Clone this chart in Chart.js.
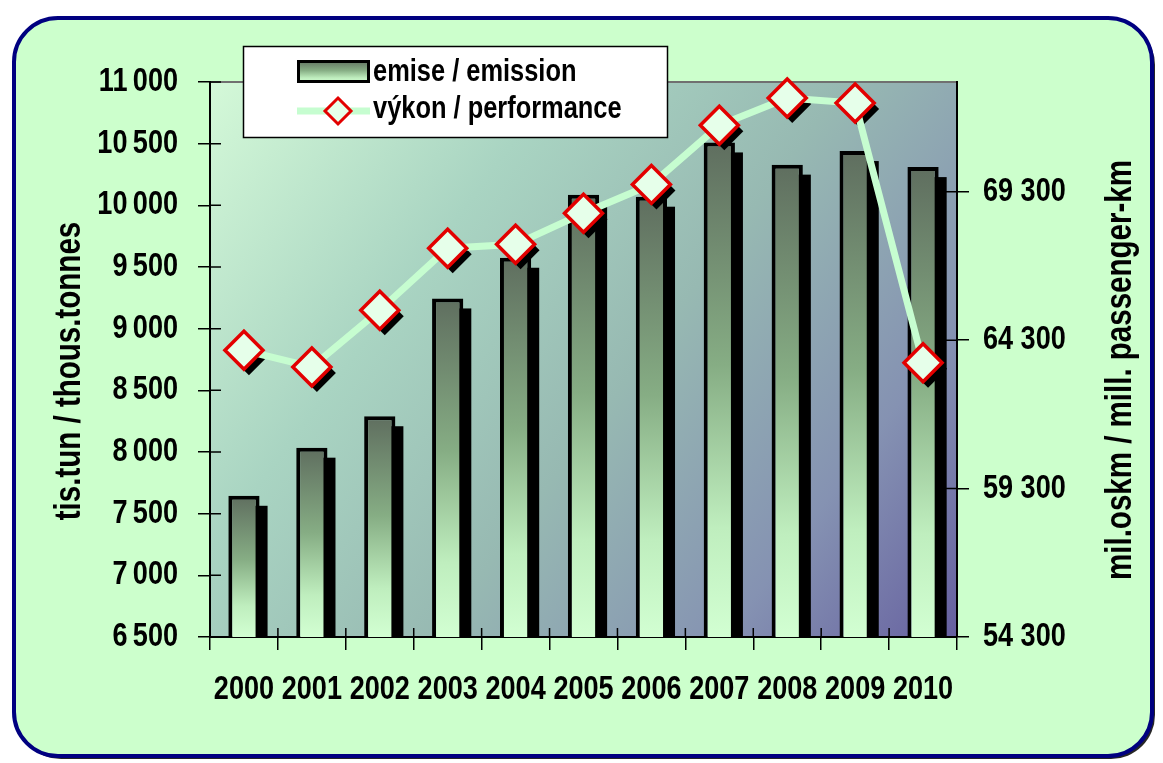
<!DOCTYPE html>
<html lang="cs">
<head>
<meta charset="UTF-8">
<title>emise / výkon</title>
<style>
  html, body { margin: 0; padding: 0; background: #fff; }
  canvas { display: block; }
</style>
</head>
<body>
<canvas id="emiseChart" width="1163" height="763"></canvas>

<script src="https://cdn.jsdelivr.net/npm/chart.js"></script>
<script>
  // data
  const years = ['2000', '2001', '2002', '2003', '2004', '2005', '2006', '2007', '2008', '2009', '2010'];
  const emise = [7645, 8035, 8290, 9245, 9575, 10085, 10070, 10510, 10330, 10440, 10310];
  const vykon = [63960, 63400, 65310, 67400, 67530, 68580, 69550, 71540, 72460, 72290, 63540];
  const leftTicks = [6500, 7000, 7500, 8000, 8500, 9000, 9500, 10000, 10500, 11000];
  const rightTicks = [54300, 59300, 64300, 69300];
  const seriesNames = ['emise / emission', 'výkon / performance'];
  const leftTitle = 'tis.tun / thous.tonnes';
  const rightTitle = 'mil.oskm / mill. passenger-km';

  const FONT = '"Liberation Sans", Arial, sans-serif';
  const NARROW = 0.82; // no Arial Narrow here, so squeeze the text to its width
  const LINE_COLOR = '#c6fdd0';
  const MARK_RED = '#e30000';
  const MARK_FILL = '#e6ffea';

  function fmt(v, sep) {
    return String(v).replace(/\B(?=(\d{3})+(?!\d))/g, sep);
  }

  function barGradient(c, top, bottom) {
    const g = c.createLinearGradient(0, top, 0, bottom);
    g.addColorStop(0, '#5f6e5f');
    g.addColorStop(0.45, '#86ad84');
    g.addColorStop(0.78, '#bfeebe');
    g.addColorStop(1, '#d2ffd2');
    return g;
  }

  function diamond(c, x, y, r) {
    c.beginPath();
    c.moveTo(x, y - r);
    c.lineTo(x + r, y);
    c.lineTo(x, y + r);
    c.lineTo(x - r, y);
    c.closePath();
  }

  function roundRect(c, x, y, w, h, r) {
    c.beginPath();
    c.moveTo(x + r, y);
    c.lineTo(x + w - r, y);
    c.arcTo(x + w, y, x + w, y + r, r);
    c.lineTo(x + w, y + h - r);
    c.arcTo(x + w, y + h, x + w - r, y + h, r);
    c.lineTo(x + r, y + h);
    c.arcTo(x, y + h, x, y + h - r, r);
    c.lineTo(x, y + r);
    c.arcTo(x, y, x + r, y, r);
    c.closePath();
  }

  const framePlugin = {
    id: 'frame',
    beforeDraw(chart) {
      const c = chart.ctx;
      const a = chart.chartArea;
      c.save();
      c.fillStyle = '#fff';
      c.fillRect(0, 0, chart.width, chart.height);
      // rounded outer panel
      roundRect(c, 14, 18, 1138, 738, 44);
      c.shadowColor = 'rgba(0,0,0,0.85)';
      c.shadowOffsetX = 3;
      c.shadowOffsetY = 3;
      c.fillStyle = '#ccffcc';
      c.fill();
      c.shadowColor = 'transparent';
      c.lineWidth = 4;
      c.strokeStyle = '#000080';
      c.stroke();
      // plot area
      const g = c.createLinearGradient(a.left, a.top, a.right, a.bottom);
      g.addColorStop(0, '#d4f9d8');
      g.addColorStop(0.3, '#a9d4c2');
      g.addColorStop(0.55, '#97b9b2');
      g.addColorStop(0.8, '#8592b2');
      g.addColorStop(1, '#6660a0');
      c.fillStyle = g;
      c.fillRect(a.left, a.top, a.right - a.left, a.bottom - a.top);
      c.strokeStyle = '#707070';
      c.lineWidth = 2;
      c.beginPath();
      c.moveTo(a.left, a.top);
      c.lineTo(a.right, a.top);
      c.stroke();
      c.restore();
    },
    beforeDatasetDraw(chart, args) {
      const c = chart.ctx;
      const a = chart.chartArea;
      c.save();
      c.beginPath();
      c.rect(a.left, a.top - 30, a.right - a.left, a.bottom - a.top + 30);
      c.clip();
      c.fillStyle = '#000';
      if (args.index === 0) {
        args.meta.data.forEach(el => {
          const p = el.getProps(['x', 'y', 'base', 'width'], true);
          c.fillRect(p.x - p.width / 2 + 8, p.y + 10, p.width, p.base - p.y - 10);
        });
      } else if (args.index === 1) {
        args.meta.data.forEach(el => {
          const p = el.getProps(['x', 'y'], true);
          diamond(c, p.x + 5, p.y + 6, 19);
          c.fill();
        });
      }
      c.restore();
    },
    afterDraw(chart) {
      const c = chart.ctx;
      const {x, y, y1} = chart.scales;
      c.save();
      c.strokeStyle = '#000';
      c.lineWidth = 1.5;
      c.beginPath();
      y.ticks.forEach((t, i) => {
        const py = y.getPixelForTick(i);
        c.moveTo(y.right, py);
        c.lineTo(y.right + 11, py);
      });
      y1.ticks.forEach((t, i) => {
        const py = y1.getPixelForTick(i);
        c.moveTo(y1.left - 11, py);
        c.lineTo(y1.left, py);
      });
      for (let i = 0; i <= years.length; i++) {
        const px = x.getPixelForValue(i - 0.5);
        c.moveTo(px, x.top - 9);
        c.lineTo(px, x.top);
      }
      c.stroke();

      // axis titles
      c.fillStyle = '#000';
      c.font = 'bold 36px ' + FONT;
      c.textAlign = 'center';
      c.textBaseline = 'middle';
      c.save();
      c.translate(70, 371);
      c.rotate(-Math.PI / 2);
      c.fillText(leftTitle, 0, 0);
      c.restore();
      c.save();
      c.translate(1121, 370);
      c.rotate(-Math.PI / 2);
      c.fillText(rightTitle, 0, 0);
      c.restore();

      // legend
      c.fillStyle = '#fff';
      c.fillRect(243, 46, 424, 91);
      c.strokeStyle = '#000';
      c.lineWidth = 1.5;
      c.strokeRect(243.5, 46.5, 424, 91);

      c.fillStyle = barGradient(c, 60, 83);
      c.fillRect(297, 60, 73, 23);
      c.lineWidth = 3;
      c.strokeRect(298.5, 61.5, 70, 20);

      c.strokeStyle = LINE_COLOR;
      c.lineWidth = 7;
      c.beginPath();
      c.moveTo(297, 111);
      c.lineTo(370, 111);
      c.stroke();
      diamond(c, 338, 111, 13);
      c.fillStyle = MARK_FILL;
      c.fill();
      c.strokeStyle = MARK_RED;
      c.lineWidth = 3;
      c.stroke();

      c.fillStyle = '#000';
      c.font = 'bold 31px ' + FONT;
      c.textAlign = 'left';
      c.fillText(seriesNames[0], 373, 72);
      c.fillText(seriesNames[1], 373, 109);
      c.restore();
    }
  };

  const tickFont = { family: FONT, size: 33, weight: 'bold' };

  const ctx = document.getElementById('emiseChart').getContext('2d');
  // every label goes through fillText: give it a max width so it comes out narrow
  const plainFillText = ctx.fillText;
  ctx.fillText = function (text, px, py, maxWidth) {
    let w = this.measureText(text).width * NARROW;
    if (maxWidth !== undefined) w = Math.min(w, maxWidth);
    return plainFillText.call(this, text, px, py, w);
  };

  const emiseChart = new Chart(ctx, {
    type: 'bar',
    data: {
      labels: years,
      datasets: [{
        type: 'bar',
        label: seriesNames[0],
        data: emise,
        yAxisID: 'y',
        order: 2,
        backgroundColor(context) {
          const chart = context.chart;
          if (!chart.chartArea || context.type !== 'data') return '#86ad84';
          const top = chart.scales.y.getPixelForValue(emise[context.dataIndex]);
          const bottom = chart.scales.y.getPixelForValue(chart.scales.y.min);
          return barGradient(chart.ctx, top, bottom);
        },
        borderColor: '#000',
        borderWidth: 4,
        borderSkipped: false,
        barPercentage: 0.46,
        categoryPercentage: 1.0,
        clip: 0
      }, {
        type: 'line',
        label: seriesNames[1],
        data: vykon,
        yAxisID: 'y1',
        order: 1,
        borderColor: LINE_COLOR,
        borderWidth: 7,
        tension: 0,
        pointStyle: 'rectRot',
        pointRadius: 19,
        pointBorderWidth: 3.5,
        pointBorderColor: MARK_RED,
        pointBackgroundColor: MARK_FILL,
        clip: false
      }]
    },
    options: {
      responsive: false,
      animation: false,
      layout: { padding: { top: 82, left: 0, right: 0, bottom: 0 } },
      plugins: {
        legend: { display: false },
        tooltip: { enabled: false }
      },
      scales: {
        x: {
          offset: true,
          grid: { offset: true, drawOnChartArea: false, tickLength: 13, color: '#000', lineWidth: 1.5 },
          border: { color: '#000', width: 2 },
          ticks: { font: tickFont, color: '#000', padding: 20, maxRotation: 0, autoSkip: false },
          afterFit(s) { s.height = 126; }
        },
        y: {
          position: 'left',
          min: 6500,
          max: 11000,
          afterBuildTicks(s) { s.ticks = leftTicks.map(v => ({ value: v })); },
          grid: { drawOnChartArea: false, tickLength: 12, color: '#000', lineWidth: 1.5 },
          border: { color: '#000', width: 2 },
          ticks: { font: tickFont, color: '#000', padding: 20, callback: v => fmt(v, '\u2009') },
          afterFit(s) { s.width = 210; }
        },
        y1: {
          position: 'right',
          min: 54300,
          max: 73000,
          afterBuildTicks(s) { s.ticks = rightTicks.map(v => ({ value: v })); },
          grid: { drawOnChartArea: false, tickLength: 12, color: '#000', lineWidth: 1.5 },
          border: { color: '#000', width: 2 },
          ticks: { font: tickFont, color: '#000', padding: 14, callback: v => fmt(v, ' ') },
          afterFit(s) { s.width = 206; }
        }
      }
    },
    plugins: [framePlugin]
  });
</script>
</body>
</html>
